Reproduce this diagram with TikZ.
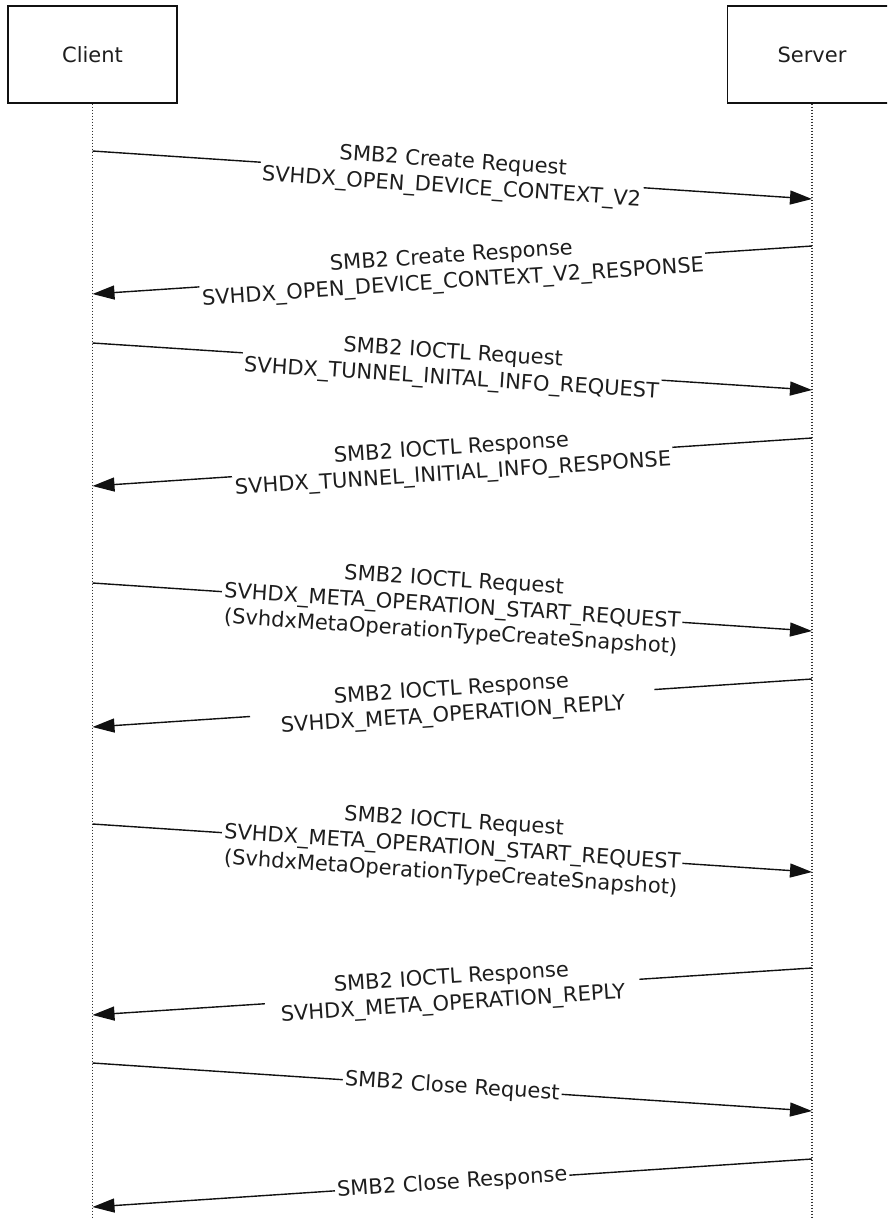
\documentclass[tikz,border=0pt]{standalone}
\usepackage{fontspec}
\setmainfont{DejaVu Sans}
\usetikzlibrary{arrows.meta}
\definecolor{seqline}{HTML}{111111}
\definecolor{seqdots}{HTML}{333333}
\definecolor{seqtext}{HTML}{1E1E1E}

\begin{document}
\begin{tikzpicture}[x=1pt, y=-1pt,
  actor/.style={draw=seqline, line width=1.3pt, minimum width=169pt, minimum height=97pt, text=seqtext, font=\fontsize{21}{25}\selectfont},
  life/.style={draw=seqdots, line width=1.1pt, dash pattern=on 1.3pt off 1.7pt},
  msg/.style={draw=seqline, line width=1.4pt, -{Triangle[length=22pt,width=14pt]}},
  lbl/.style={midway, sloped, fill=white, inner xsep=2pt, inner ysep=1pt, align=center, text=seqtext, font=\fontsize{21}{26}\selectfont}]
\useasboundingbox (0,0) rectangle (887,1219);
\clip (0,0) rectangle (887,1219);

% actors and lifelines
\node[actor] (client) at (92.5,54.5) {Client};
\node[actor] (server) at (812,54.5) {Server};
\coordinate (clientend) at (92.5,1219);
\coordinate (serverend) at (812,1219);
\draw[life] (client.south) -- (clientend);
\draw[life] (server.south) -- (serverend);

% message end points
\coordinate (c1) at (92.5,151);  \coordinate (s1) at (812,199);
\coordinate (s2) at (812,246);   \coordinate (c2) at (92.5,294);
\coordinate (c3) at (92.5,343);  \coordinate (s3) at (812,390);
\coordinate (s4) at (812,438);   \coordinate (c4) at (92.5,486);
\coordinate (c5) at (92.5,583);  \coordinate (s5) at (812,631);
\coordinate (s6) at (812,679);   \coordinate (c6) at (92.5,727);
\coordinate (c7) at (92.5,824);  \coordinate (s7) at (812,872);
\coordinate (s8) at (812,968);   \coordinate (c8) at (92.5,1015);
\coordinate (c9) at (92.5,1063); \coordinate (s9) at (812,1111);
\coordinate (s10) at (812,1159); \coordinate (c10) at (92.5,1207);

% messages
\draw[msg] (c1) -- node[lbl] (create) {SMB2 Create Request\\SVHDX\_OPEN\_DEVICE\_CONTEXT\_V2} (s1);
\draw[msg] (s2) -- node[lbl] (createrep) {SMB2 Create Response\\SVHDX\_OPEN\_DEVICE\_CONTEXT\_V2\_RESPONSE} (c2);
\draw[msg] (c3) -- node[lbl] (tunnel) {SMB2 IOCTL Request\\SVHDX\_TUNNEL\_INITAL\_INFO\_REQUEST} (s3);
\draw[msg] (s4) -- node[lbl] (tunnelrep) {SMB2 IOCTL Response\\SVHDX\_TUNNEL\_INITIAL\_INFO\_RESPONSE} (c4);
\draw[msg] (c5) -- node[lbl] (metaA) {SMB2 IOCTL Request\\SVHDX\_META\_OPERATION\_START\_REQUEST\\(SvhdxMetaOperationTypeCreateSnapshot)} (s5);
\draw[msg] (s6) -- node[lbl, inner xsep=30pt] (metaArep) {SMB2 IOCTL Response\\SVHDX\_META\_OPERATION\_REPLY} (c6);
\draw[msg] (c7) -- node[lbl] (metaB) {SMB2 IOCTL Request\\SVHDX\_META\_OPERATION\_START\_REQUEST\\(SvhdxMetaOperationTypeCreateSnapshot)} (s7);
\draw[msg] (s8) -- node[lbl, inner xsep=15pt] (metaBrep) {SMB2 IOCTL Response\\SVHDX\_META\_OPERATION\_REPLY} (c8);
\draw[msg] (c9) -- node[lbl] (close) {SMB2 Close Request} (s9);
\draw[msg] (s10) -- node[lbl] (closerep) {SMB2 Close Response} (c10);
\end{tikzpicture}
\end{document}
